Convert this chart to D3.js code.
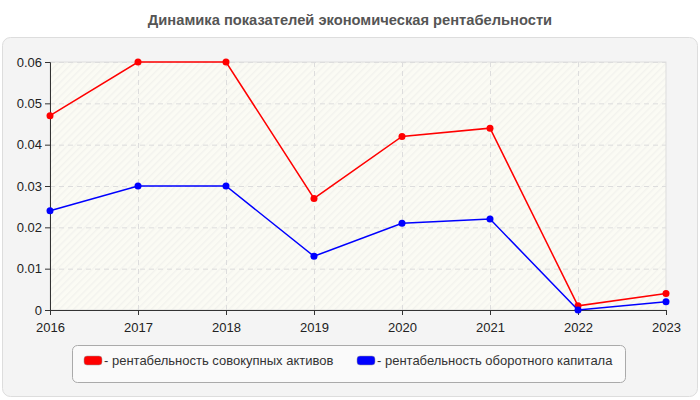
<!DOCTYPE html>
<html><head><meta charset="utf-8">
<script src="https://cdn.jsdelivr.net/npm/d3@7"></script>
<style>body{margin:0;background:#fff;}svg{display:block;font-family:"Liberation Sans",Arial,sans-serif;}</style>
</head><body><svg id="c" width="700" height="400"></svg>
<script>
const years = ["2016","2017","2018","2019","2020","2021","2022","2023"];
const assetsReturn = [0.047,0.060,0.060,0.027,0.042,0.044,0.001,0.004];
const workingCapitalReturn = [0.024,0.030,0.030,0.013,0.021,0.022,0.000,0.002];
const yTicks = [0,0.01,0.02,0.03,0.04,0.05,0.06];
const seriesNames = ["- рентабельность совокупных активов","- рентабельность оборотного капитала"];
const seriesColors = ["#ff0000","#0000ff"];
const title = "Динамика показателей экономическая рентабельности";

const svg = d3.select("#c");
const defs = svg.append("defs");
const pat = defs.append("pattern").attr("id","hatch").attr("patternUnits","userSpaceOnUse")
  .attr("width",5).attr("height",5).attr("patternTransform","rotate(45)");
pat.append("rect").attr("width",5).attr("height",5).attr("fill","#fbfbf4");
pat.append("rect").attr("width",1.5).attr("height",5).attr("fill","#f3f3ee");

svg.append("text").attr("x",350).attr("y",25).attr("text-anchor","middle")
  .attr("font-size",14.7).attr("font-weight","bold").attr("fill","#555").text(title);

svg.append("rect").attr("x",2.5).attr("y",37.5).attr("width",695).attr("height",359).attr("rx",8)
  .attr("fill","#f4f4f4").attr("stroke","#dddddd");

const L=50,R=666,T=62,B=310;
const x = d3.scalePoint().domain(years).range([L,R]);
const y = d3.scaleLinear().domain([0,0.06]).range([B,T]);

svg.append("rect").attr("x",L).attr("y",T).attr("width",R-L).attr("height",B-T)
  .attr("fill","url(#hatch)").attr("stroke","#dddddd");

const g = svg.append("g");
g.selectAll(".hg").data(yTicks.slice(1)).join("line")
  .attr("x1",L).attr("x2",R).attr("y1",d=>y(d)+0.5).attr("y2",d=>y(d)+0.5)
  .attr("stroke","#dddddd").attr("stroke-dasharray","5,4");
g.selectAll(".vg").data(years.slice(1,-1)).join("line")
  .attr("y1",T).attr("y2",B).attr("x1",d=>x(d)+0.5).attr("x2",d=>x(d)+0.5)
  .attr("stroke","#dddddd").attr("stroke-dasharray","5,4");

const yAxis = svg.append("g").attr("transform",`translate(${L},0)`)
  .call(d3.axisLeft(y).tickValues(yTicks).tickFormat(d=>d===0?"0":d3.format(".2f")(d)).tickSizeOuter(0).tickSize(5));
const xAxis = svg.append("g").attr("transform",`translate(0,${B})`)
  .call(d3.axisBottom(x).tickSizeOuter(0).tickSize(5));
[yAxis,xAxis].forEach(a=>{
  a.select(".domain").attr("stroke","#333");
  a.selectAll(".tick line").attr("stroke","#333");
  a.selectAll("text").attr("font-size",13).attr("fill","#222").attr("font-family","Liberation Sans, Arial, sans-serif");
});
xAxis.selectAll("text").attr("dy","1.1em");

const series=[assetsReturn,workingCapitalReturn];
const line=d3.line().x((d,i)=>x(years[i])).y(d=>y(d));
series.forEach((s,k)=>{
  svg.append("path").datum(s).attr("d",line).attr("fill","none")
    .attr("stroke",seriesColors[k]).attr("stroke-width",1.5);
  svg.selectAll(null).data(s).join("circle").attr("cx",(d,i)=>x(years[i])).attr("cy",d=>y(d))
    .attr("r",3.5).attr("fill",seriesColors[k]);
});

svg.append("rect").attr("x",72.5).attr("y",345.5).attr("width",553).attr("height",37).attr("rx",5)
  .attr("fill","#fafafa").attr("stroke","#aaaaaa");
const lx=[84,357];
seriesNames.forEach((n,k)=>{
  svg.append("rect").attr("x",lx[k]).attr("y",356).attr("width",18).attr("height",9).attr("rx",3)
    .attr("fill",seriesColors[k]).attr("stroke","#999").attr("stroke-width",0.5);
  svg.append("text").attr("x",lx[k]+20).attr("y",365).attr("font-size",13).attr("fill","#333").text(n);
});
</script></body></html>
